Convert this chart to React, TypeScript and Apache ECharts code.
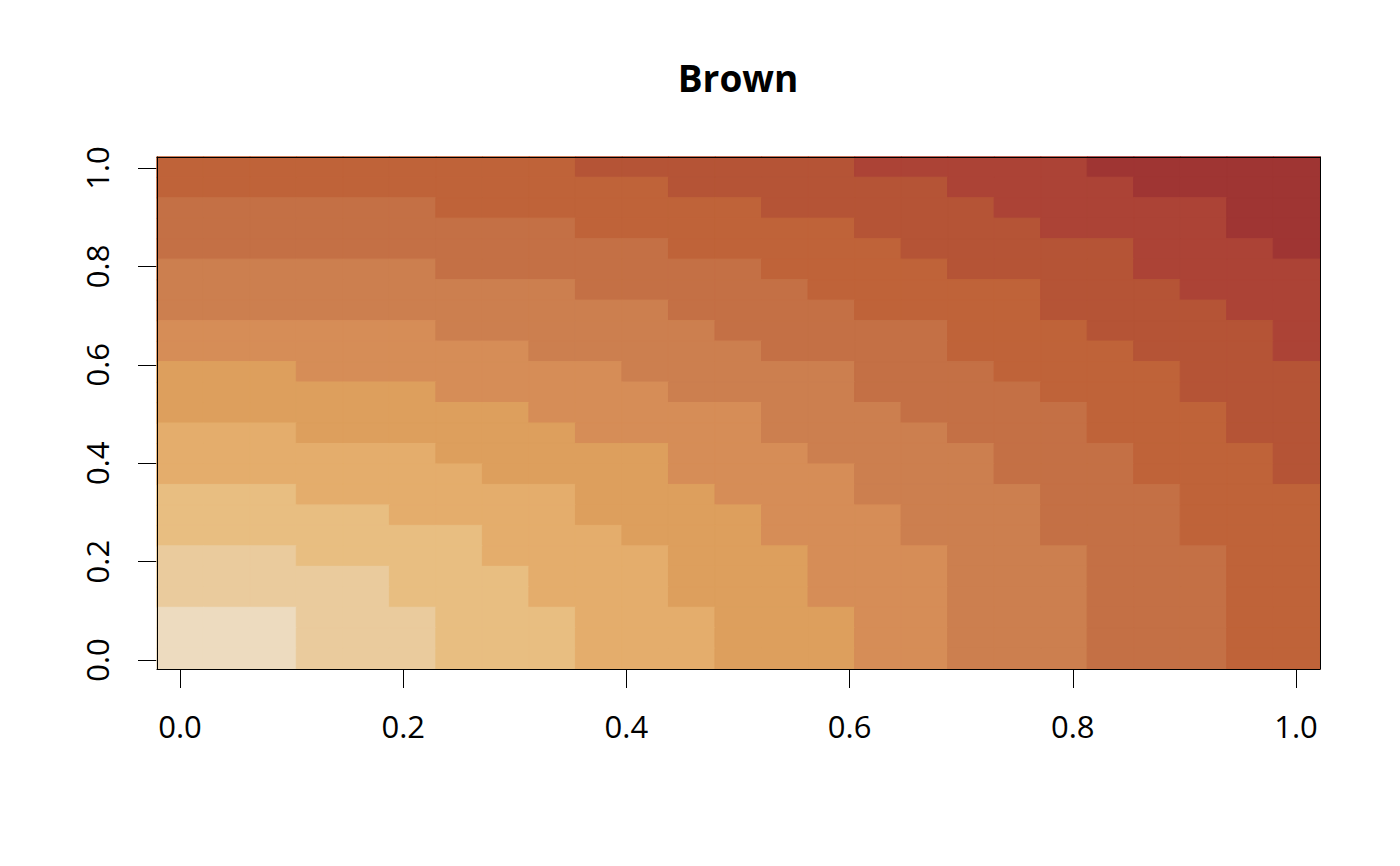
import React, { useEffect, useRef } from 'react';
import * as echarts from 'echarts';

// 12-colour "Brown" palette, light to dark
const palette = [
  '#EDDBBF', '#EACB9D', '#E8BE81', '#E4AD6C', '#DD9F5D', '#D68D57',
  '#CC7F4F', '#C47045', '#BF6339', '#B55436', '#AC4336', '#9F3533',
];

// colour level of every cell (1..9, a=10, b=11, c=12)
// first string is the top row (y = 1.0), last is the bottom row (y = 0.0)
const levelRows = [
  '999999999aaaaaabbbbbccccc',
  '99999999999aaaaaabbbbcccc',
  '8888889999999aaaaabbbbbcc',
  '888888888999999aaaabbbbcc',
  '8888888888899999aaaaabbbc',
  '77777788888889999aaaabbbb',
  '7777777778888899999aaabbb',
  '7777777777788889999aaaabb',
  '66666677777788888999aaaab',
  '666666667777788889999aaab',
  '5556666666777778889999aaa',
  '5555556666677778888999aaa',
  '55555555666667778888999aa',
  '44455555566667777888999aa',
  '444444555556667777888999a',
  '444444455556666777888999a',
  '3334444445556667777888999',
  '3333344445555666777888999',
  '3333333444555666777888999',
  '2223333444455566677788899',
  '2222233344455566677788899',
  '2222233344455566677788899',
  '1112223334445556677788899',
  '1112223334445556677788899',
  '1112223334445556677788899',
];

const nRows = levelRows.length;
const nCols = levelRows[0].length;
const cellIdx = Array.from({ length: nCols }, (_, i) => String(i));
const rowIdx = Array.from({ length: nRows }, (_, j) => String(j));

const cells = levelRows.flatMap((row, r) =>
  row.split('').map((ch, c) => {
    const level = parseInt(ch, 16);
    const color = palette[level - 1];
    return {
      value: [c, nRows - 1 - r, level],
      itemStyle: { borderColor: color, borderWidth: 1 },
    };
  })
);

const FONT = '"Open Sans", "Noto Sans", sans-serif';

const boxAxis = (position: string) => ({
  type: 'category',
  gridIndex: 0,
  position,
  z: 10,
  axisLine: { show: true, onZero: false, lineStyle: { color: '#000', width: 1 } },
  axisTick: { show: false },
  axisLabel: { show: false },
  splitLine: { show: false },
});

const App: React.FC = () => {
  const chartRef = useRef<HTMLDivElement>(null);

  useEffect(() => {
    if (!chartRef.current) return undefined;
    const chart = echarts.init(chartRef.current, undefined, { renderer: 'svg' });

    const options: any = {
      animation: false,
      backgroundColor: '#fff',
      title: {
        text: 'Brown',
        left: 725,
        top: 46,
        textAlign: 'center',
        textStyle: { fontFamily: FONT, fontSize: 37, fontWeight: 'bold', color: '#000' },
      },
      visualMap: {
        type: 'piecewise',
        show: false,
        dimension: 2,
        seriesIndex: 0,
        pieces: palette.map((color, i) => ({ value: i + 1, color })),
      },
      grid: [
        // plot box
        { left: 149, right: 72, top: 149, bottom: 189 },
        // 0..1 range used by the tick axes
        { left: 172, right: 96, top: 160, bottom: 198 },
      ],
      xAxis: [
        { ...boxAxis('bottom'), data: cellIdx },
        { ...boxAxis('top'), data: cellIdx },
        {
          type: 'value',
          gridIndex: 1,
          min: 0,
          max: 1,
          interval: 0.2,
          position: 'bottom',
          offset: 9,
          axisLine: { show: true, onZero: false, lineStyle: { color: '#000', width: 1 } },
          axisTick: { show: true, length: 19, lineStyle: { color: '#000' } },
          axisLabel: {
            margin: 41,
            fontFamily: FONT,
            fontSize: 31,
            color: '#000',
            formatter: (v: number) => v.toFixed(1),
          },
          splitLine: { show: false },
        },
      ],
      yAxis: [
        { ...boxAxis('left'), data: rowIdx },
        { ...boxAxis('right'), data: rowIdx },
        {
          type: 'value',
          gridIndex: 1,
          min: 0,
          max: 1,
          interval: 0.2,
          position: 'left',
          offset: 23,
          axisLine: { show: true, onZero: false, lineStyle: { color: '#000', width: 1 } },
          axisTick: { show: true, length: 19, lineStyle: { color: '#000' } },
          axisLabel: {
            margin: 45,
            rotate: 90,
            fontFamily: FONT,
            fontSize: 31,
            color: '#000',
            formatter: (v: number) => v.toFixed(1),
          },
          splitLine: { show: false },
        },
      ],
      series: [
        {
          type: 'heatmap',
          xAxisIndex: 0,
          yAxisIndex: 0,
          data: cells,
          emphasis: { disabled: true },
        },
      ],
    };
    chart.setOption(options);

    return () => {
      chart.dispose();
    };
  }, []);

  return <div ref={chartRef} style={{ width: '1384px', height: '850px' }} />;
};

export default App;
